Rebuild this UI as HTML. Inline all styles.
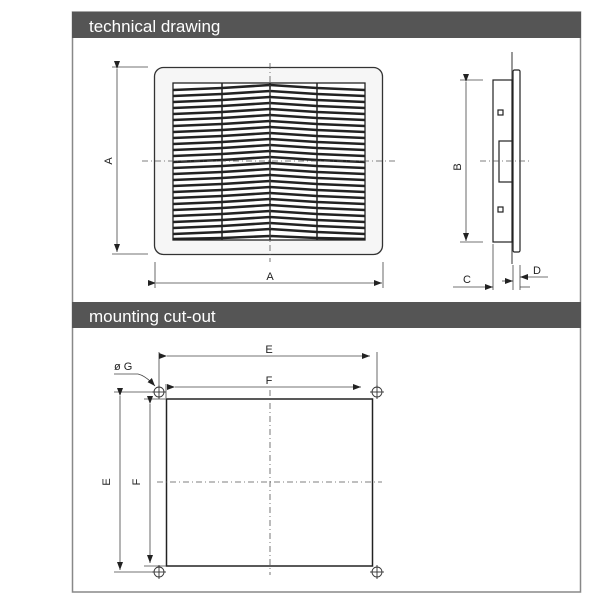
<!DOCTYPE html>
<html><head><style>
html,body{margin:0;padding:0;background:#fff;}
svg{display:block;}
text{font-family:"Liberation Sans",sans-serif;}
</style></head><body>
<svg width="600" height="600" viewBox="0 0 600 600" xmlns="http://www.w3.org/2000/svg">
<defs>
<marker id="ar" markerWidth="8" markerHeight="6" refX="8" refY="3" orient="auto" markerUnits="userSpaceOnUse"><path d="M0,0 L8,3 L0,6 z" fill="#222"/></marker>
</defs>
<rect x="72.5" y="12" width="508" height="580" fill="#fff" stroke="#888" stroke-width="1.5"/>
<rect x="72" y="12" width="509" height="26" fill="#555"/>
<text x="89" y="32" font-size="17" fill="#fff">technical drawing</text>
<rect x="72" y="302" width="509" height="26" fill="#555"/>
<text x="89" y="322" font-size="17" fill="#fff">mounting cut-out</text>

<rect x="154.5" y="67.5" width="228" height="187" rx="9" fill="#f6f6f6" stroke="#333" stroke-width="1.3"/>
<rect x="173" y="83" width="192" height="157" fill="#fff" stroke="#222" stroke-width="1.3"/>
<g stroke="#222" stroke-width="2.6" fill="none">
<polyline points="173,90 222,88 270,85 317,88 365,90"/>
<polyline points="173,96 222,94 270,91 317,94 365,96"/>
<polyline points="173,102 222,100 270,97 317,100 365,102"/>
<polyline points="173,108 222,106 270,103 317,106 365,108"/>
<polyline points="173,114 222,112 270,109 317,112 365,114"/>
<polyline points="173,120 222,118 270,115 317,118 365,120"/>
<polyline points="173,126 222,124 270,121 317,124 365,126"/>
<polyline points="173,132 222,130 270,127 317,130 365,132"/>
<polyline points="173,138 222,136 270,133 317,136 365,138"/>
<polyline points="173,144 222,142 270,139 317,142 365,144"/>
<polyline points="173,150 222,148 270,145 317,148 365,150"/>
<polyline points="173,156 222,154 270,151 317,154 365,156"/>
<polyline points="173,162 222,160 270,157 317,160 365,162"/>
<polyline points="173,168 222,166 270,163 317,166 365,168"/>
<polyline points="173,174 222,172 270,169 317,172 365,174"/>
<polyline points="173,180 222,178 270,175 317,178 365,180"/>
<polyline points="173,186 222,184 270,181 317,184 365,186"/>
<polyline points="173,192 222,190 270,187 317,190 365,192"/>
<polyline points="173,198 222,196 270,193 317,196 365,198"/>
<polyline points="173,204 222,202 270,199 317,202 365,204"/>
<polyline points="173,210 222,208 270,205 317,208 365,210"/>
<polyline points="173,216 222,214 270,211 317,214 365,216"/>
<polyline points="173,222 222,220 270,217 317,220 365,222"/>
<polyline points="173,228 222,226 270,223 317,226 365,228"/>
<polyline points="173,234 222,232 270,229 317,232 365,234"/>
<polyline points="173,239 222,238 270,236 317,238 365,239"/>
</g>
<g stroke="#222" stroke-width="1.5">
<line x1="222" y1="83" x2="222" y2="240"/><line x1="270" y1="83" x2="270" y2="240"/><line x1="317" y1="83" x2="317" y2="240"/>
</g>
<g stroke="#444" stroke-width="0.8" fill="none">
<line x1="112" y1="67" x2="148" y2="67"/><line x1="112" y1="254" x2="148" y2="254"/>
<line x1="117" y1="69" x2="117" y2="252" marker-start="url(#ar)" marker-end="url(#ar)"/>
<line x1="155" y1="262" x2="155" y2="288"/><line x1="383" y1="262" x2="383" y2="288"/>
<line x1="156" y1="283" x2="382" y2="283" marker-start="url(#ar)" marker-end="url(#ar)"/>
</g>
<text x="270" y="280" font-size="11" text-anchor="middle" fill="#222">A</text>
<text x="112" y="161" font-size="11" text-anchor="middle" fill="#222" transform="rotate(-90 112 161)">A</text>

<g stroke="#222" stroke-width="1.2" fill="#fff">
<line x1="512" y1="52" x2="512" y2="264" stroke="#555"/>
<rect x="513" y="70" width="7" height="182" rx="1.5"/>
<rect x="493" y="80" width="19" height="162"/>
<rect x="499" y="141" width="13" height="41"/>
<rect x="498" y="110" width="5" height="5"/>
<rect x="498" y="207" width="5" height="5"/>
</g>
<g stroke="#444" stroke-width="0.8" fill="none">
<line x1="460" y1="80" x2="483" y2="80"/><line x1="460" y1="242" x2="483" y2="242"/>
<line x1="466" y1="82" x2="466" y2="241" marker-start="url(#ar)" marker-end="url(#ar)"/>
<line x1="493" y1="244" x2="493" y2="290"/><line x1="513" y1="265" x2="513" y2="290"/><line x1="520" y1="265" x2="520" y2="290"/>
<line x1="453" y1="287" x2="493" y2="287" marker-end="url(#ar)"/>
<line x1="502" y1="281" x2="513" y2="281" marker-end="url(#ar)"/>
<line x1="548" y1="277" x2="520" y2="277" marker-end="url(#ar)"/>
<line x1="520" y1="287" x2="530" y2="287"/>
</g>
<text x="467" y="283" font-size="11" text-anchor="middle" fill="#222">C</text>
<text x="537" y="274" font-size="11" text-anchor="middle" fill="#222">D</text>
<text x="461" y="167" font-size="11" text-anchor="middle" fill="#222" transform="rotate(-90 461 167)">B</text>

<rect x="166.5" y="399" width="206" height="167" fill="#fff" stroke="#222" stroke-width="1.5"/>
<g stroke="#555" stroke-width="0.8" stroke-dasharray="6,3,1,3" fill="none">
<line x1="270" y1="63" x2="270" y2="262"/><line x1="142" y1="161" x2="397" y2="161"/>
<line x1="480" y1="161" x2="532" y2="161"/>
<line x1="270" y1="390" x2="270" y2="575"/><line x1="157" y1="482" x2="382" y2="482"/>
</g>
<g stroke="#333" stroke-width="0.9" fill="none">
<circle cx="159" cy="392" r="5"/><circle cx="377" cy="392" r="5"/><circle cx="159" cy="572" r="5"/><circle cx="377" cy="572" r="5"/>
<line x1="152" y1="392" x2="166" y2="392"/><line x1="159" y1="385" x2="159" y2="399"/>
<line x1="370" y1="392" x2="384" y2="392"/><line x1="377" y1="385" x2="377" y2="399"/>
<line x1="152" y1="572" x2="166" y2="572"/><line x1="159" y1="565" x2="159" y2="579"/>
<line x1="370" y1="572" x2="384" y2="572"/><line x1="377" y1="565" x2="377" y2="579"/>
</g>
<g stroke="#444" stroke-width="0.8" fill="none">
<line x1="159" y1="352" x2="159" y2="386"/><line x1="377" y1="352" x2="377" y2="386"/>
<line x1="167" y1="356" x2="370" y2="356" marker-start="url(#ar)" marker-end="url(#ar)"/>
<line x1="166" y1="384" x2="166" y2="398"/>
<line x1="175" y1="387" x2="361" y2="387" marker-start="url(#ar)" marker-end="url(#ar)"/>
<line x1="114" y1="392" x2="153" y2="392"/><line x1="114" y1="572" x2="153" y2="572"/>
<line x1="144" y1="399" x2="166" y2="399"/><line x1="144" y1="566" x2="166" y2="566"/>
<line x1="120" y1="396" x2="120" y2="570" marker-start="url(#ar)" marker-end="url(#ar)"/>
<line x1="150" y1="404" x2="150" y2="563" marker-start="url(#ar)" marker-end="url(#ar)"/>
<path d="M114,374 L138,374 Q146,376 155,386" marker-end="url(#ar)"/>
</g>
<text x="269" y="353" font-size="11" text-anchor="middle" fill="#222">E</text>
<text x="269" y="384" font-size="11" text-anchor="middle" fill="#222">F</text>
<text x="114" y="370" font-size="11" fill="#222">ø G</text>
<text x="110" y="482" font-size="11" text-anchor="middle" fill="#222" transform="rotate(-90 110 482)">E</text>
<text x="140" y="482" font-size="11" text-anchor="middle" fill="#222" transform="rotate(-90 140 482)">F</text>
</svg>
</body></html>
